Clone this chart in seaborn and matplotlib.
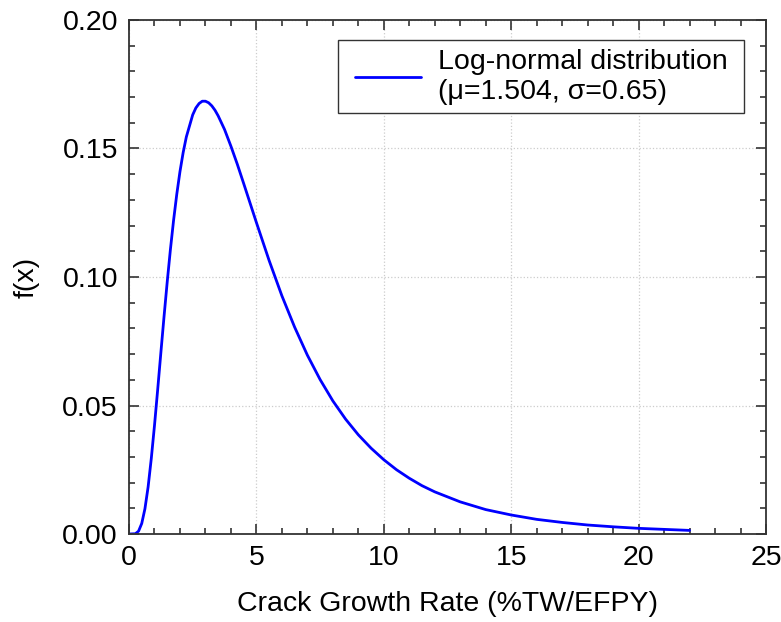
import matplotlib
matplotlib.use('Agg')
import matplotlib.pyplot as plt
from matplotlib.ticker import MultipleLocator, FormatStrFormatter
from matplotlib.legend_handler import HandlerLine2D
import pandas as pd
import seaborn as sns

# points
x_rate = [0, 0.25, 0.375, 0.5, 0.625, 0.75, 0.875, 1.0, 1.125, 1.25, 1.375, 1.5,
          1.625, 1.75, 1.875, 2.0, 2.125, 2.25, 2.5, 2.625, 2.75, 2.875, 3.0,
          3.125, 3.25, 3.375, 3.5, 3.75, 4.0, 4.25, 4.5, 4.75, 5,
          5.5, 6, 6.5, 7, 7.5, 8, 8.5, 9, 9.5, 10, 10.5, 11, 11.5, 12, 13, 14,
          15, 16, 17, 18, 19, 20, 21, 22]
f_x = [0.0, 0.0001, 0.0011, 0.0041, 0.0098, 0.0183, 0.0294, 0.0422, 0.0561,
       0.0705, 0.0846, 0.0981, 0.1107, 0.1221, 0.1322, 0.1410, 0.1484, 0.1545,
       0.1631, 0.1658, 0.1675, 0.1684, 0.1684, 0.1678, 0.1666, 0.1649, 0.1627,
       0.1574, 0.1509, 0.1439, 0.1364, 0.1288, 0.1212, 0.1064, 0.0927,
       0.0805, 0.0696, 0.0601, 0.0518, 0.0447, 0.0386, 0.0334, 0.0289, 0.0250,
       0.0217, 0.0188, 0.0164, 0.0125, 0.0095, 0.0074, 0.0057, 0.0045, 0.0035,
       0.0028, 0.0022, 0.0018, 0.0014]
label = 'Log-normal distribution \n(\u03bc=1.504, \u03c3=0.65)'

df = pd.DataFrame({'x': x_rate, 'f': f_x})

sns.set_style('ticks')
plt.rcParams['font.family'] = ['Liberation Sans', 'DejaVu Sans']
plt.rcParams['text.color'] = 'black'
plt.rcParams['axes.labelcolor'] = 'black'

fig = plt.figure(figsize=(7.81, 6.22), dpi=100)
ax = fig.add_axes([129 / 781, 1 - 534 / 622, 637 / 781, 514 / 622])

sns.lineplot(data=df, x='x', y='f', color='#0000ff', linewidth=2.0, label=label, ax=ax)

ax.set_xlim(0, 25)
ax.set_ylim(0, 0.20)
ax.xaxis.set_major_locator(MultipleLocator(5))
ax.xaxis.set_minor_locator(MultipleLocator(1))
ax.yaxis.set_major_locator(MultipleLocator(0.05))
ax.yaxis.set_minor_locator(MultipleLocator(0.01))
ax.yaxis.set_major_formatter(FormatStrFormatter('%.2f'))
ax.tick_params(which='both', direction='in', top=True, right=True, labelsize=20.5,
               color='#333333', labelcolor='black')
ax.tick_params(which='major', length=7, width=1.2, pad=8)
ax.tick_params(which='minor', length=4, width=1.2)
for s in ax.spines.values():
    s.set_linewidth(1.3)
    s.set_color('#333333')
ax.grid(True, which='major', linestyle=':', color='#cccccc', linewidth=0.9)

ax.set_xlabel('Crack Growth Rate (%TW/EFPY)', fontsize=20.5, labelpad=14)
ax.set_ylabel('f(x)', fontsize=20.5, labelpad=16)

leg = ax.legend(loc='upper right', bbox_to_anchor=(0.9655, 0.961), fontsize=20.5, frameon=True,
                fancybox=False, edgecolor='#333333', handlelength=2.6, borderpad=0.3,
                handletextpad=0.6, borderaxespad=0,
                handler_map={matplotlib.lines.Line2D: HandlerLine2D(xpad=0.3)})
leg.get_frame().set_linewidth(1.0)
leg.get_frame().set_alpha(1)

fig.savefig('out.png', dpi=100)
